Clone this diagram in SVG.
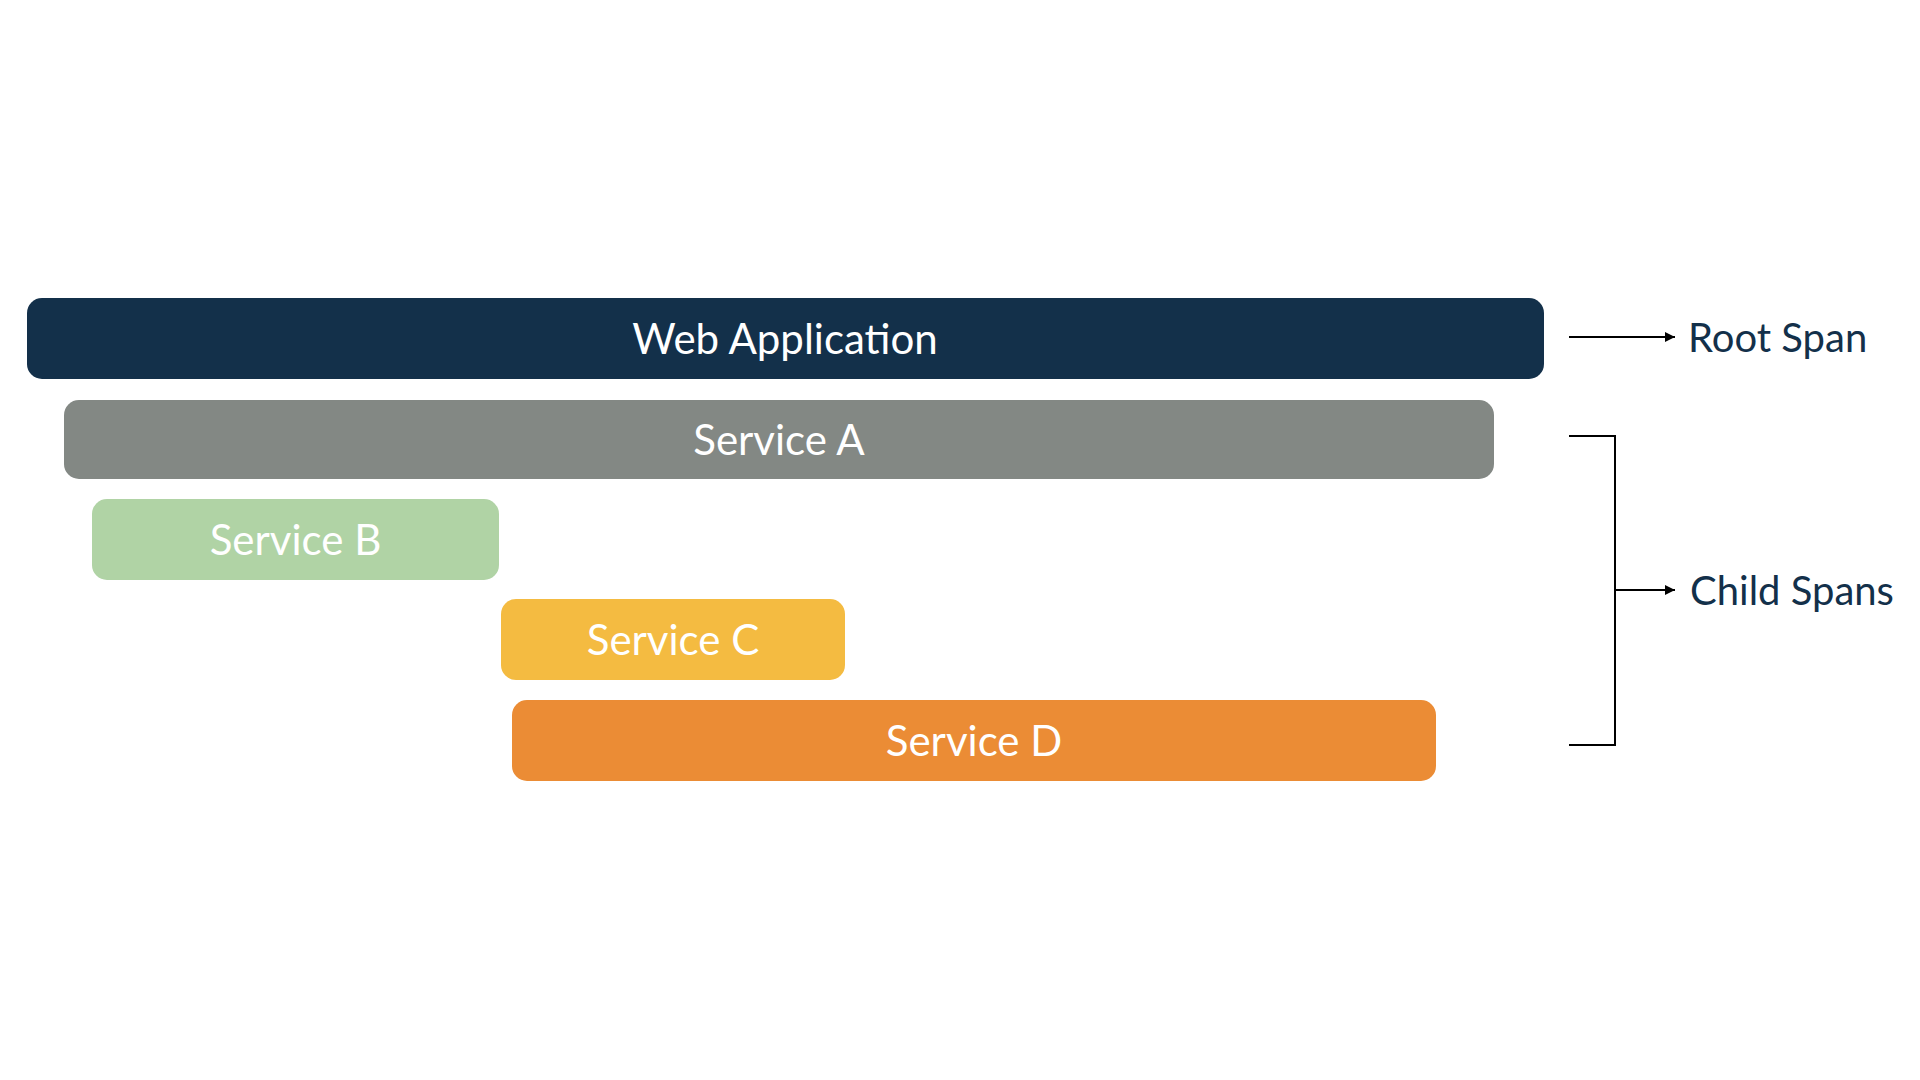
<svg xmlns="http://www.w3.org/2000/svg" width="1920" height="1080" viewBox="0 0 1920 1080">
  <style>
    .bar-label { font-family: Lato, "Open Sans", "Liberation Sans", sans-serif; font-size: 42px; fill: #ffffff; text-anchor: middle; }
    .side-label { font-family: Lato, "Open Sans", "Liberation Sans", sans-serif; font-size: 40px; fill: #13304A; }
    .conn { stroke: #000000; stroke-width: 2; fill: none; }
  </style>
  <defs>
    <marker id="arrow" viewBox="0 0 10 10" refX="10" refY="5" markerWidth="5" markerHeight="5" markerUnits="strokeWidth" orient="auto">
      <path d="M0,0 L10,5 L0,10 z" fill="#000000"/>
    </marker>
  </defs>
  <rect width="1920" height="1080" fill="#ffffff"/>

  <g id="web-application">
    <rect x="27" y="298" width="1517" height="81" rx="15" fill="#13304A"/>
    <text class="bar-label" x="785" y="354">Web Application</text>
  </g>
  <g id="service-a">
    <rect x="64" y="400" width="1430" height="79" rx="15" fill="#838884"/>
    <text class="bar-label" x="779" y="455">Service A</text>
  </g>
  <g id="service-b">
    <rect x="92" y="499" width="407" height="81" rx="15" fill="#B0D3A5"/>
    <text class="bar-label" x="295.5" y="555">Service B</text>
  </g>
  <g id="service-c">
    <rect x="501" y="599" width="344" height="81" rx="15" fill="#F4BB41"/>
    <text class="bar-label" x="673" y="655">Service C</text>
  </g>
  <g id="service-d">
    <rect x="512" y="700" width="924" height="81" rx="15" fill="#EB8C35"/>
    <text class="bar-label" x="974" y="756">Service D</text>
  </g>

  <g id="root-span-label">
    <text class="side-label" x="1688" y="352">Root Span</text>
  </g>
  <g id="child-spans-label">
    <text class="side-label" x="1690" y="605">Child Spans</text>
  </g>

  <g id="connectors">
    <line class="conn" x1="1569" y1="337" x2="1675" y2="337" marker-end="url(#arrow)"/>
    <path class="conn" d="M1569,436 H1615 V745 H1569"/>
    <line class="conn" x1="1615" y1="590" x2="1675" y2="590" marker-end="url(#arrow)"/>
  </g>
</svg>
